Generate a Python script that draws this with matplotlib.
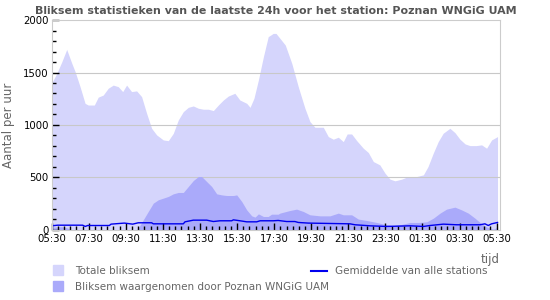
import numpy as np
import matplotlib.pyplot as plt
from matplotlib.patches import Rectangle
from matplotlib.lines import Line2D

# hours since 05:30
t_total = [0.0, 0.27, 0.54, 0.81, 1.08, 1.26, 1.53, 1.80, 1.97, 2.30, 2.51, 2.78, 3.05,
           3.32, 3.59, 3.83, 4.04, 4.31, 4.58, 4.85, 5.12, 5.39, 5.66, 6.02, 6.29, 6.56,
           6.83, 7.10, 7.37, 7.64, 7.91, 8.18, 8.45, 8.72, 8.99, 9.26, 9.53, 9.88, 10.15,
           10.52, 10.70, 10.91, 11.15, 11.42, 11.68, 11.95, 12.10, 12.60, 12.95, 13.30,
           13.66, 13.93, 14.20, 14.65, 14.92, 15.19, 15.46, 15.73, 15.94, 16.18, 16.45,
           16.81, 17.08, 17.35, 17.70, 17.98, 18.25, 18.52, 18.88, 19.23, 19.69, 20.05,
           20.30, 20.58, 20.85, 21.12, 21.48, 21.75, 22.02, 22.30, 22.56, 22.90, 23.19,
           23.46, 23.73, 24.05]
total = [1400, 1490, 1600, 1720, 1590, 1510, 1365, 1206, 1190, 1190, 1265, 1285, 1350,
         1380, 1365, 1318, 1380, 1318, 1325, 1270, 1111, 968, 905, 857, 850, 920,
         1048, 1127, 1168, 1181, 1159, 1150, 1150, 1137, 1190, 1238, 1276, 1302, 1238,
         1206, 1168, 1254, 1429, 1651, 1842, 1873, 1873, 1762, 1588, 1365,
         1159, 1032, 978, 978, 889, 864, 883, 841, 914, 914, 851,
         778, 737, 651, 619, 540, 483, 467, 483, 508, 508, 524,
         603, 730, 841, 921, 968, 927, 864, 819, 803, 803, 810,
         778, 857, 889]

t_local = [0.0, 0.54, 0.81, 0.99, 1.08, 4.58, 4.67, 4.94, 5.21, 5.48, 5.75, 6.02, 6.29,
           6.56, 6.83, 7.10, 7.37, 7.64, 7.91, 8.09, 8.36, 8.63, 8.90, 9.17, 9.44, 9.80,
           9.98, 10.25, 10.52, 10.79, 10.97, 11.15, 11.42, 11.68, 11.86, 12.22, 12.31,
           12.85, 13.21, 13.57, 13.93, 14.47, 15.01, 15.46, 15.73, 16.18, 16.54, 16.99,
           17.53, 17.98, 18.43, 18.88, 19.33, 19.78, 20.23, 20.59, 20.95, 21.30, 21.75,
           22.11, 22.47, 22.83, 23.19, 23.55, 23.82, 24.05]
local = [25, 30, 20, 5, 0, 0, 15, 95, 175, 254, 286, 302, 318,
         343, 356, 356, 413, 470, 508, 508, 460, 413, 343, 333, 327, 327,
         333, 270, 190, 133, 121, 152, 127, 127, 149, 149, 159,
         184, 197, 175, 143, 133, 133, 159, 143, 143, 102, 89,
         70, 51, 41, 51, 70, 70, 76, 111, 159, 197, 216,
         190, 159, 111, 57, 19, 6, 25]

t_avg = [0.0, 0.32, 1.67, 1.81, 1.94, 3.11, 3.20, 3.92, 4.37, 4.67, 5.39, 5.48, 7.10,
         7.19, 7.64, 8.36, 8.72, 9.08, 9.71, 9.80, 10.16, 10.52, 11.06, 11.24, 11.96,
         12.22, 12.67, 13.12, 13.30, 13.84, 16.09, 16.36, 17.17, 18.07, 19.33, 20.05,
         20.41, 21.13, 21.84, 23.10, 23.37, 23.55, 23.73, 24.05]
avg = [38, 44, 44, 32, 41, 41, 54, 64, 54, 67, 67, 57, 57,
       76, 92, 92, 79, 86, 86, 95, 86, 76, 76, 86, 86,
       89, 79, 79, 70, 64, 57, 48, 38, 32, 38, 32,
       41, 54, 48, 48, 57, 41, 57, 70]

tick_labels = ["05:30", "07:30", "09:30", "11:30", "13:30", "15:30", "17:30",
               "19:30", "21:30", "23:30", "01:30", "03:30", "05:30"]

c_total = "#d5d5fc"
c_local = "#aaaafa"
c_avg = "#0000ee"
grey = "#666666"

fig = plt.figure(figsize=(5.5, 3), dpi=100)
ax = fig.add_axes([0.094, 0.234, 0.815, 0.699])
ax.set_axisbelow(False)

ax.fill_between(t_total, total, 0, color=c_total, lw=0, zorder=1)
for y in [500, 1000, 1500]:
    ax.axhline(y, color="#c8c8c8", lw=0.8, zorder=1.5)
ax.fill_between(t_local, local, 0, color=c_local, lw=0, zorder=2)
ax.plot(t_avg, avg, color=c_avg, lw=1, zorder=3)

ax.set_xlim(0, 24.18)
ax.set_ylim(0, 2000)
ax.set_xticks(np.arange(0, 24.1, 2))
ax.set_xticklabels(tick_labels)
ax.set_xticks(np.arange(0, 24.1, 1/3), minor=True)
ax.set_yticks([0, 500, 1000, 1500, 2000])
ax.set_yticks(np.arange(0, 2001, 100), minor=True)
ax.tick_params(axis="both", which="major", direction="in", length=5, width=1,
               labelsize=7.3, pad=2, color="black")
ax.tick_params(axis="x", which="major", pad=3)
ax.tick_params(axis="both", which="minor", direction="in", length=3, width=1, color="black")
for s in ax.spines.values():
    s.set_color("#cccccc")
    s.set_zorder(4)
ax.set_ylabel("Aantal per uur", color=grey, fontsize=8.5, labelpad=6)
ax.text(1.0, -0.11, "tijd", transform=ax.transAxes, ha="right", va="top",
        color=grey, fontsize=8.5)

fig.text(0.502, 0.965, "Bliksem statistieken van de laatste 24h voor het station: Poznan WNGiG UAM",
         ha="center", va="center", fontsize=7.9, fontweight="bold", color="#555555")

# legend
fig.patches.append(Rectangle((53/550, 1 - 275/300), 10/550, 10/300,
                             transform=fig.transFigure, color=c_total))
fig.patches.append(Rectangle((53/550, 1 - 291/300), 10/550, 10/300,
                             transform=fig.transFigure, color=c_local))
fig.text(75/550, 1 - 270.5/300, "Totale bliksem", va="center", fontsize=7.5, color=grey)
fig.text(75/550, 1 - 286.5/300, "Bliksem waargenomen door Poznan WNGiG UAM",
         va="center", fontsize=7.5, color=grey)
fig.lines.append(Line2D([311/550, 327/550], [1 - 270.5/300, 1 - 270.5/300],
                        transform=fig.transFigure, color=c_avg, lw=1.5))
fig.text(335/550, 1 - 270.5/300, "Gemiddelde van alle stations", va="center",
         fontsize=7.5, color=grey)

fig.savefig("out.png", dpi=100)
